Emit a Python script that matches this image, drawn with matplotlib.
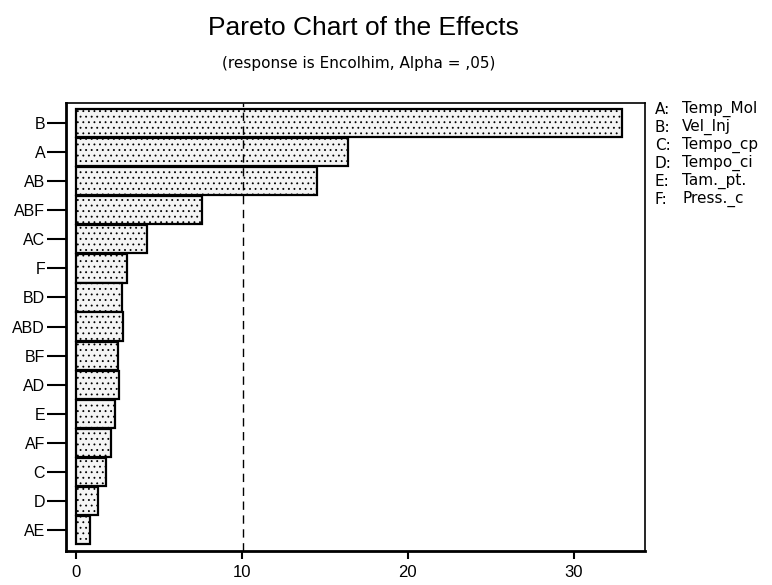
import matplotlib
matplotlib.use("Agg")
import matplotlib.pyplot as plt

plt.rcParams["font.family"] = ["Liberation Sans", "DejaVu Sans"]
plt.rcParams["hatch.color"] = "#a8a8a8"
plt.rcParams["hatch.linewidth"] = 0.6

# Effects, top to bottom
terms = ["B", "A", "AB", "ABF", "AC", "F", "BD", "ABD", "BF", "AD", "E", "AF", "C", "D", "AE"]
effects = [32.9, 16.4, 14.5, 7.6, 4.3, 3.05, 2.8, 2.85, 2.55, 2.6, 2.35, 2.1, 1.8, 1.3, 0.85]
ref_line = 10.05
factor_keys = ["A:", "B:", "C:", "D:", "E:", "F:"]
factor_names = ["Temp_Mol", "Vel_Inj", "Tempo_cp", "Tempo_ci", "Tam._pt.", "Press._c"]

fig = plt.figure(figsize=(7.72, 5.85), dpi=100)
ax = fig.add_axes([0.0855, 0.058, 0.75, 0.766])

pos = list(range(len(terms)))
ax.barh(pos, effects, height=0.97, left=0, color="#f4f4f4", edgecolor="black",
        linewidth=1.6, hatch="...")
ax.axvline(ref_line, color="black", linestyle=(0, (6, 4)), linewidth=1.0)

ax.set_ylim(len(terms) - 1 + 0.72, -0.69)
ax.set_xlim(-0.6, 34.3)
ax.set_yticks(pos)
ax.set_yticklabels(terms, fontsize=11.5)
ax.set_xticks([0, 10, 20, 30])
ax.tick_params(axis="y", length=14, width=1.5, pad=1)
ax.tick_params(axis="x", length=6, width=1.5, labelsize=12, pad=4)
for side in ["left", "bottom"]:
    ax.spines[side].set_linewidth(2)
for side in ["top", "right"]:
    ax.spines[side].set_linewidth(1.2)

fig.text(0.471, 0.952, "Pareto Chart of the Effects", ha="center", va="center", fontsize=19)
fig.text(0.464, 0.891, "(response is Encolhim, Alpha = ,05)", ha="center", va="center",
         fontsize=11, family=["DejaVu Sans"])

for i, (k, n) in enumerate(zip(factor_keys, factor_names)):
    y = 1 - (109 + i * 18) / 585
    fig.text(655 / 772, y, k, fontsize=11, va="center", family=["DejaVu Sans"])
    fig.text(682 / 772, y, n, fontsize=11, va="center", family=["DejaVu Sans"])

fig.savefig("out.png", dpi=100)
